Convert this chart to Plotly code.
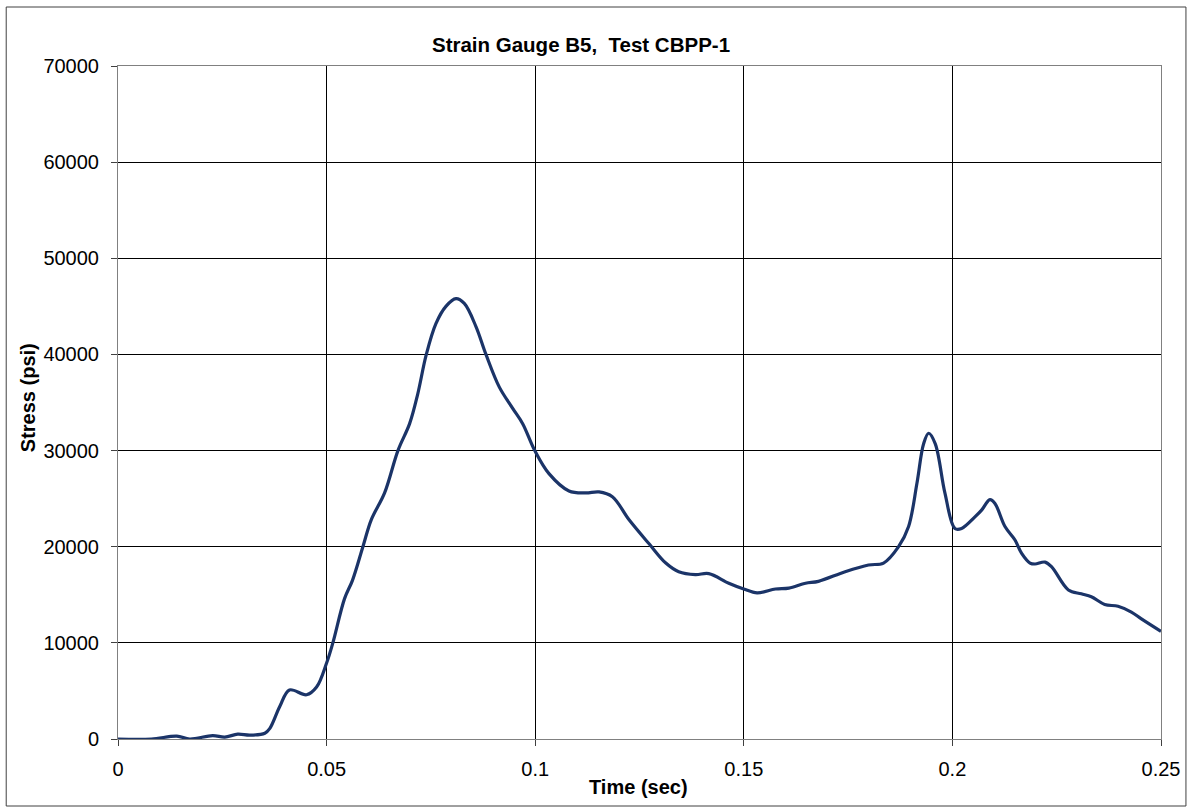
import plotly.graph_objects as go

time_sec = [0, 0.008, 0.0141, 0.0172, 0.0227, 0.0256, 0.0287, 0.0316, 0.0352, 0.0364,
            0.0388, 0.0411, 0.0452, 0.0476, 0.05, 0.0515, 0.0543, 0.0562, 0.0587, 0.0607,
            0.0639, 0.0671, 0.0699, 0.0718, 0.0739, 0.0762, 0.0786, 0.0810, 0.0830, 0.0858,
            0.0882, 0.0914, 0.0946, 0.0970, 0.0999, 0.1033, 0.1081, 0.1121, 0.1153, 0.1185,
            0.1225, 0.1273, 0.1313, 0.1344, 0.1384, 0.1416, 0.1464, 0.15, 0.1532, 0.1576,
            0.1608, 0.1648, 0.1679, 0.1743, 0.1799, 0.1835, 0.1871, 0.1895, 0.1915, 0.1931,
            0.1943, 0.1959, 0.1982, 0.2006, 0.2022, 0.2054, 0.2070, 0.2090, 0.2102, 0.2126,
            0.2150, 0.2166, 0.2186, 0.2198, 0.2222, 0.2238, 0.2278, 0.2309, 0.2333, 0.2365,
            0.2397, 0.2429, 0.2453, 0.25]
stress_psi = [0, 0, 300, 0, 350, 200, 500, 400, 600, 1100,
              3400, 5100, 4600, 5400, 7900, 10000, 14600, 16500, 20000, 22800,
              25600, 30000, 32800, 35800, 40000, 43200, 45000, 45800, 45300, 42900,
              40000, 36600, 34400, 32800, 30000, 27600, 25800, 25600, 25700, 25200,
              22800, 20300, 18300, 17400, 17100, 17200, 16200, 15600, 15200, 15600,
              15700, 16200, 16400, 17400, 18100, 18300, 20000, 22100, 26600, 30700,
              31800, 30700, 25600, 21900, 21900, 23100, 23800, 24900, 24500, 22100,
              20700, 19300, 18300, 18200, 18400, 17900, 15500, 15100, 14800, 14000,
              13800, 13200, 12500, 11200]

x_ticks = [0, 0.05, 0.1, 0.15, 0.2, 0.25]
x_tick_labels = ["0", "0.05", "0.1", "0.15", "0.2", "0.25"]
y_ticks = [0, 10000, 20000, 30000, 40000, 50000, 60000, 70000]
y_tick_labels = [str(v) for v in y_ticks]

W, H = 1192, 808
L, R, T, B = 118, 1163, 66, 739

fig = go.Figure()
fig.add_trace(go.Scatter(
    x=time_sec, y=stress_psi, mode="lines",
    line=dict(color="#1B3468", width=3.2, shape="spline", smoothing=1.0),
    showlegend=False, hoverinfo="skip"))

font = "Arial, Liberation Sans, sans-serif"
fig.update_layout(
    width=W, height=H,
    margin=dict(l=L, r=W - R, t=T, b=H - B),
    paper_bgcolor="white", plot_bgcolor="white",
    title=dict(text="<b>Strain Gauge B5,  Test CBPP-1</b>", x=581 / W, xanchor="center",
               y=1 - 45 / H, yanchor="middle", font=dict(family=font, size=20.5, color="black")),
    font=dict(family=font, color="black"),
    xaxis=dict(range=[0, 0.25], tickvals=x_ticks, ticktext=x_tick_labels,
               showgrid=True, gridcolor="black", gridwidth=1,
               showline=True, linecolor="#808080", linewidth=1, mirror=True,
               ticks="outside", ticklen=6, tickcolor="#404040", ticklabelstandoff=6,
               tickfont=dict(family=font, size=20, color="black"), zeroline=False),
    yaxis=dict(range=[0, 70000], tickvals=y_ticks, ticktext=y_tick_labels,
               showgrid=True, gridcolor="black", gridwidth=1,
               showline=True, linecolor="#808080", linewidth=1, mirror=True,
               ticks="outside", ticklen=6, tickcolor="#404040", ticklabelstandoff=8,
               tickfont=dict(family=font, size=20, color="black"), zeroline=False),
    annotations=[
        dict(text="<b>Time (sec)</b>", xref="paper", yref="paper",
             x=(639.5 - L) / (R - L), y=(B - 787) / (B - T), xanchor="center", yanchor="middle",
             showarrow=False, font=dict(family=font, size=20, color="black")),
        dict(text="<b>Stress (psi)</b>", xref="paper", yref="paper",
             x=(28 - L) / (R - L), y=(B - 398) / (B - T), xanchor="center", yanchor="middle",
             textangle=-90, showarrow=False, font=dict(family=font, size=20, color="black")),
    ],
    shapes=[dict(type="rect", xref="paper", yref="paper",
                 x0=(6 - L) / (R - L), x1=(1188 - L) / (R - L),
                 y0=(B - 806) / (B - T), y1=(B - 7) / (B - T),
                 line=dict(color="#404040", width=1), layer="below")],
)

fig.write_html("out.html", config={"displayModeBar": False},
               post_script="document.body.style.margin='0';document.body.style.overflow='hidden';")
